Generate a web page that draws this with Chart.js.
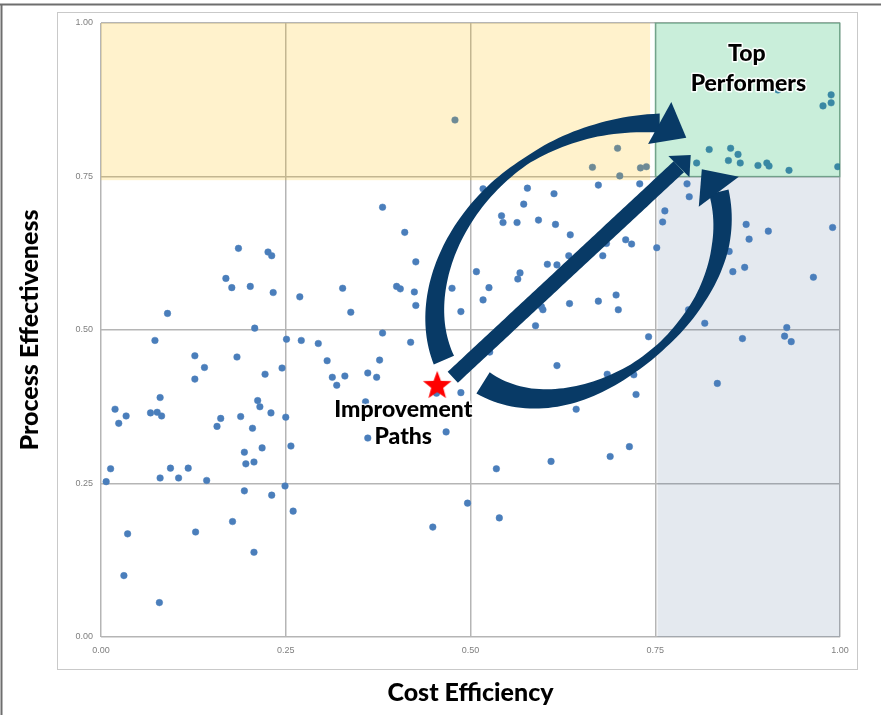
<!DOCTYPE html>
<html>
<head>
<meta charset="utf-8">
<script src="https://cdn.jsdelivr.net/npm/chart.js@4.4.1/dist/chart.umd.min.js"></script>
<style>
  html, body { margin: 0; padding: 0; background: #fff; }
</style>
</head>
<body>
<canvas id="chart" width="881" height="715"></canvas>
<script>
// Cost Efficiency (x) / Process Effectiveness (y), one entry per unit
const costEfficiency = [
  0.186, 0.226, 0.231, 0.169, 0.177, 0.202, 0.233, 0.269, 0.327, 0.090,
  0.208, 0.073, 0.251, 0.271, 0.294, 0.127, 0.184, 0.140, 0.306, 0.245,
  0.222, 0.127, 0.313, 0.319, 0.330, 0.080, 0.212, 0.215, 0.019, 0.034,
  0.024, 0.067, 0.076, 0.082, 0.162, 0.157, 0.189, 0.205, 0.230, 0.250,
  0.257, 0.218, 0.194, 0.196, 0.207, 0.013, 0.007, 0.080, 0.094, 0.105,
  0.118, 0.143, 0.194, 0.231, 0.249, 0.260, 0.178, 0.036, 0.128, 0.207,
  0.031, 0.079, 0.479, 0.517, 0.577, 0.613, 0.572, 0.381, 0.542, 0.544,
  0.563, 0.592, 0.615, 0.635, 0.411, 0.426, 0.633, 0.604, 0.617, 0.508,
  0.567, 0.564, 0.400, 0.405, 0.424, 0.525, 0.475, 0.426, 0.517, 0.338,
  0.487, 0.596, 0.598, 0.634, 0.588, 0.381, 0.419, 0.377, 0.361, 0.373,
  0.526, 0.617, 0.454, 0.487, 0.358, 0.467, 0.361, 0.643, 0.535, 0.609,
  0.496, 0.539, 0.449, 0.916, 0.988, 0.988, 0.977, 0.823, 0.852, 0.862,
  0.849, 0.865, 0.806, 0.889, 0.901, 0.904, 0.931, 0.997, 0.699, 0.665,
  0.730, 0.738, 0.702, 0.673, 0.729, 0.793, 0.796, 0.763, 0.760, 0.873,
  0.903, 0.990, 0.877, 0.710, 0.718, 0.679, 0.752, 0.850, 0.871, 0.855,
  0.964, 0.697, 0.673, 0.700, 0.795, 0.817, 0.928, 0.741, 0.868, 0.925,
  0.934, 0.685, 0.721, 0.724, 0.834, 0.715, 0.689, 0.684
];
const processEffectiveness = [
  0.633, 0.627, 0.621, 0.584, 0.569, 0.571, 0.561, 0.554, 0.568, 0.527,
  0.503, 0.483, 0.485, 0.483, 0.478, 0.458, 0.456, 0.439, 0.450, 0.438,
  0.428, 0.420, 0.423, 0.410, 0.425, 0.390, 0.385, 0.375, 0.371, 0.360,
  0.348, 0.365, 0.366, 0.360, 0.356, 0.343, 0.359, 0.340, 0.365, 0.358,
  0.311, 0.308, 0.301, 0.282, 0.285, 0.274, 0.253, 0.259, 0.275, 0.259,
  0.275, 0.255, 0.238, 0.231, 0.246, 0.205, 0.188, 0.168, 0.171, 0.138,
  0.100, 0.056, 0.842, 0.730, 0.731, 0.722, 0.705, 0.700, 0.686, 0.675,
  0.675, 0.679, 0.672, 0.655, 0.659, 0.611, 0.621, 0.607, 0.606, 0.595,
  0.593, 0.583, 0.571, 0.567, 0.562, 0.569, 0.568, 0.540, 0.549, 0.529,
  0.530, 0.538, 0.533, 0.543, 0.507, 0.495, 0.480, 0.451, 0.430, 0.423,
  0.464, 0.442, 0.397, 0.398, 0.383, 0.334, 0.324, 0.371, 0.274, 0.286,
  0.218, 0.194, 0.179, 0.891, 0.883, 0.870, 0.865, 0.794, 0.796, 0.786,
  0.776, 0.772, 0.772, 0.768, 0.772, 0.767, 0.760, 0.766, 0.796, 0.765,
  0.764, 0.766, 0.751, 0.736, 0.738, 0.738, 0.717, 0.694, 0.676, 0.672,
  0.661, 0.667, 0.648, 0.647, 0.640, 0.621, 0.634, 0.628, 0.602, 0.595,
  0.586, 0.557, 0.547, 0.533, 0.533, 0.511, 0.504, 0.489, 0.486, 0.490,
  0.481, 0.428, 0.427, 0.395, 0.413, 0.310, 0.294, 0.641
];
const improvementStart = [0.455, 0.409];
const axisTicks = [0, 0.25, 0.5, 0.75, 1];
const tickLabels = ['0.00', '0.25', '0.50', '0.75', '1.00'];
const quadrantSplit = 0.75;

const NAVY = '#083a66';
const tickFont = { family: 'Liberation Sans', size: 9 };
const titleFont = { family: 'Lato', size: 25, weight: '900' };

// filled red star used as the point style of the start marker
function makeStar(r) {
  const c = document.createElement('canvas');
  c.width = c.height = Math.ceil(r * 2 + 2);
  const g = c.getContext('2d');
  const cx = c.width / 2, cy = c.height / 2;
  g.beginPath();
  for (let i = 0; i < 10; i++) {
    const rad = i % 2 === 0 ? r : r * 0.42;
    const a = -Math.PI / 2 + i * Math.PI / 5;
    g.lineTo(cx + rad * Math.cos(a), cy + rad * Math.sin(a));
  }
  g.closePath();
  g.fillStyle = '#ff0000';
  g.fill();
  return c;
}

// arrows, in data units: centreline (2 or 4 bezier points), width knots [t, px], tip, head half-width
const arrows = [
  { pts: [[0.464, 0.451], [0.411, 0.598], [0.533, 0.839], [0.756, 0.837]],
    widths: [[0, 22], [0.25, 17], [0.5, 11], [0.68, 7], [0.85, 12], [1, 19]],
    tip: [0.792, 0.813], head: 24 },
  { pts: [[0.517, 0.414], [0.648, 0.313], [0.878, 0.524], [0.836, 0.725]],
    widths: [[0, 25], [0.25, 17], [0.45, 9], [0.55, 8], [0.7, 11], [0.85, 17], [1, 20]],
    tip: [0.813, 0.762], head: 25 },
  { pts: [[0.476, 0.423], [0.782, 0.766]],
    widths: [[0, 15], [1, 15]],
    tip: [0.798, 0.785], head: 15 }
];

function widthAt(knots, t) {
  for (let i = 1; i < knots.length; i++) {
    if (t <= knots[i][0]) {
      const [t0, w0] = knots[i - 1], [t1, w1] = knots[i];
      return w0 + (w1 - w0) * (t - t0) / (t1 - t0);
    }
  }
  return knots[knots.length - 1][1];
}

function drawArrow(ctx, xs, ys, a) {
  const P = a.pts.map(p => [xs.getPixelForValue(p[0]), ys.getPixelForValue(p[1])]);
  const pt = t => {
    if (P.length === 2) return [P[0][0] + (P[1][0] - P[0][0]) * t, P[0][1] + (P[1][1] - P[0][1]) * t];
    const u = 1 - t;
    const b = [u * u * u, 3 * u * u * t, 3 * u * t * t, t * t * t];
    return [0, 1].map(k => b[0] * P[0][k] + b[1] * P[1][k] + b[2] * P[2][k] + b[3] * P[3][k]);
  };
  const N = 80, left = [], right = [];
  for (let i = 0; i <= N; i++) {
    const t = i / N;
    const p = pt(t);
    const q1 = pt(Math.max(0, t - 0.005)), q2 = pt(Math.min(1, t + 0.005));
    let dx = q2[0] - q1[0], dy = q2[1] - q1[1];
    const len = Math.hypot(dx, dy) || 1;
    dx /= len; dy /= len;
    const hw = widthAt(a.widths, t) / 2;
    left.push([p[0] - dy * hw, p[1] + dx * hw]);
    right.push([p[0] + dy * hw, p[1] - dx * hw]);
  }
  ctx.beginPath();
  left.forEach((p, i) => i ? ctx.lineTo(p[0], p[1]) : ctx.moveTo(p[0], p[1]));
  for (let i = right.length - 1; i >= 0; i--) ctx.lineTo(right[i][0], right[i][1]);
  ctx.closePath();
  ctx.fill();

  // head
  const end = P[P.length - 1];
  const tip = [xs.getPixelForValue(a.tip[0]), ys.getPixelForValue(a.tip[1])];
  let hx = tip[0] - end[0], hy = tip[1] - end[1];
  const hl = Math.hypot(hx, hy);
  hx /= hl; hy /= hl;
  ctx.beginPath();
  ctx.moveTo(end[0] - hy * a.head, end[1] + hx * a.head);
  ctx.lineTo(tip[0], tip[1]);
  ctx.lineTo(end[0] + hy * a.head, end[1] - hx * a.head);
  ctx.closePath();
  ctx.fill();
}

const labels = [
  { text: 'Top', x: 0.874, y: 0.951 },
  { text: 'Performers', x: 0.876, y: 0.902 },
  { text: 'Improvement', x: 0.409, y: 0.371 },
  { text: 'Paths', x: 0.409, y: 0.326 }
];

const decor = {
  id: 'decor',
  beforeDraw(chart) {
    const ctx = chart.ctx;
    ctx.save();
    ctx.fillStyle = '#fff';
    ctx.fillRect(0, 0, chart.width, chart.height);
    // slide frame
    ctx.strokeStyle = '#6e6e6e';
    ctx.lineWidth = 2;
    ctx.beginPath();
    ctx.moveTo(0, 4.5); ctx.lineTo(chart.width, 4.5);
    ctx.moveTo(1.5, 4.5); ctx.lineTo(1.5, chart.height);
    ctx.stroke();
    // chart area box
    ctx.strokeStyle = '#c9c9c9';
    ctx.lineWidth = 1;
    ctx.strokeRect(57.5, 12.5, 800, 657);
    ctx.restore();
  },
  beforeDatasetsDraw(chart) {
    const { ctx, scales: { x, y } } = chart;
    ctx.save();
    ctx.fillStyle = 'rgba(31, 73, 125, 0.12)';
    const x0 = x.getPixelForValue(quadrantSplit + 0.003);
    ctx.fillRect(x0, y.getPixelForValue(quadrantSplit), x.getPixelForValue(1) - x0,
      y.getPixelForValue(0) - y.getPixelForValue(quadrantSplit));
    ctx.restore();
  },
  afterDatasetDraw(chart, args) {
    if (args.index !== 0) return;
    const { ctx, scales: { x, y } } = chart;
    ctx.save();
    // yellow band (upper left) and green band (top performers) over the points
    const top = y.getPixelForValue(1);
    const yb = y.getPixelForValue(quadrantSplit - 0.006);
    ctx.fillStyle = 'rgba(255, 192, 0, 0.2)';
    ctx.fillRect(x.getPixelForValue(0), top, x.getPixelForValue(quadrantSplit - 0.007) - x.getPixelForValue(0), yb - top);
    const gx = x.getPixelForValue(quadrantSplit);
    const gb = y.getPixelForValue(quadrantSplit);
    ctx.fillStyle = 'rgba(0, 176, 80, 0.21)';
    ctx.fillRect(gx, top, x.getPixelForValue(1) - gx, gb - top);
    ctx.strokeStyle = 'rgba(0, 120, 60, 0.25)';
    ctx.lineWidth = 1.5;
    ctx.strokeRect(gx, top, x.getPixelForValue(1) - gx, gb - top);
    // improvement paths
    ctx.fillStyle = NAVY;
    arrows.forEach(a => drawArrow(ctx, x, y, a));
    ctx.restore();
  },
  afterDatasetsDraw(chart) {
    const { ctx, scales: { x, y } } = chart;
    ctx.save();
    ctx.font = '900 23px Lato';
    ctx.textAlign = 'center';
    ctx.textBaseline = 'middle';
    ctx.lineJoin = 'round';
    labels.forEach(l => {
      const px = x.getPixelForValue(l.x), py = y.getPixelForValue(l.y);
      ctx.strokeStyle = 'rgba(255,255,255,0.9)';
      ctx.lineWidth = 3;
      ctx.strokeText(l.text, px, py);
      ctx.fillStyle = '#000';
      ctx.fillText(l.text, px, py);
    });
    ctx.restore();
  }
};

const axisBase = {
  type: 'linear',
  min: 0,
  max: 1,
  afterBuildTicks: s => { s.ticks = axisTicks.map(v => ({ value: v })); },
  grid: { color: '#b5b5b5', lineWidth: 1.5, drawTicks: false },
  border: { display: false }
};

new Chart(document.getElementById('chart'), {
  type: 'scatter',
  data: {
    datasets: [
      {
        label: 'Units',
        data: costEfficiency.map((v, i) => ({ x: v, y: processEffectiveness[i] })),
        backgroundColor: '#4a7ebb',
        borderColor: '#4a7ebb',
        borderWidth: 0.5,
        pointRadius: 3.3,
        order: 2
      },
      {
        label: 'Start',
        data: [{ x: improvementStart[0], y: improvementStart[1] }],
        pointStyle: makeStar(15),
        order: 1
      }
    ]
  },
  options: {
    responsive: false,
    animation: false,
    layout: { padding: { top: 23, right: 41, left: 0, bottom: 0 } },
    scales: {
      x: {
        ...axisBase,
        ticks: { callback: (v, i) => tickLabels[i], color: '#7f7f7f', font: tickFont, padding: 8, maxRotation: 0 },
        title: { display: true, text: 'Cost Efficiency', color: '#000', font: titleFont, padding: { top: 0, bottom: 7 } },
        afterFit: s => { s.height = 78; }
      },
      y: {
        ...axisBase,
        ticks: { callback: (v, i) => tickLabels[i], color: '#7f7f7f', font: tickFont, padding: 8 },
        title: { display: true, text: 'Process Effectiveness', color: '#000', font: titleFont, padding: { top: 15, bottom: 0 } },
        afterFit: s => { s.width = 101; }
      }
    },
    plugins: {
      legend: { display: false },
      tooltip: { enabled: false }
    }
  },
  plugins: [decor]
});
</script>
</body>
</html>
